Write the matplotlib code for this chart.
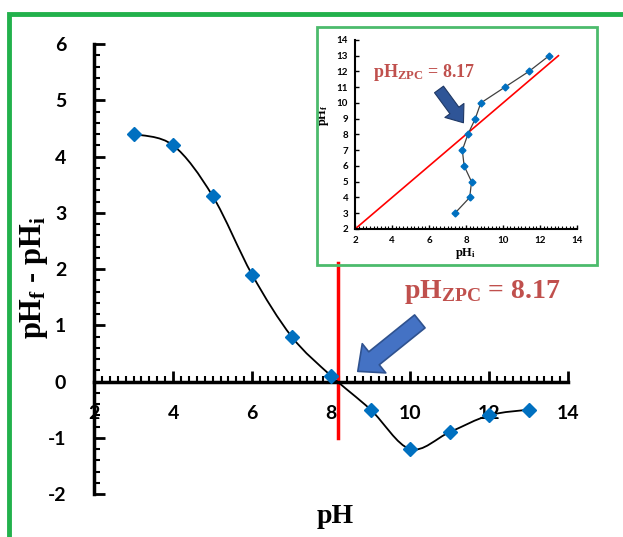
import numpy as np
import matplotlib
matplotlib.use("Agg")
import matplotlib.pyplot as plt
from matplotlib.path import Path
from matplotlib.patches import PathPatch, Rectangle
from matplotlib.ticker import MultipleLocator

# Data: pH drift method
ph_initial = [3, 4, 5, 6, 7, 8, 9, 10, 11, 12, 13]
ph_delta = [4.4, 4.2, 3.3, 1.9, 0.8, 0.1, -0.5, -1.2, -0.9, -0.6, -0.5]

# Inset: pHf vs pHi
inset_phi = [7.4, 8.2, 8.3, 7.9, 7.8, 8.1, 8.5, 8.8, 10.1, 11.4, 12.5]
inset_phf = [3, 4, 5, 6, 7, 8, 9, 10, 11, 12, 13]
diag = [2, 13]
ph_zpc = 8.17

plt.rcParams["axes.unicode_minus"] = False
plt.rcParams["mathtext.fontset"] = "custom"
plt.rcParams["mathtext.rm"] = "Liberation Serif"
plt.rcParams["mathtext.bf"] = "Liberation Serif:bold"

tick_font = "Lato"
serif = "Liberation Serif"
zpc_color = "#C0504D"
marker_color = "#0070C0"


def smooth_path(xs, ys):
    """Catmull-Rom style bezier path through the points (like Excel smoothed line)."""
    pts = np.column_stack([xs, ys]).astype(float)
    verts = [pts[0]]
    codes = [Path.MOVETO]
    n = len(pts)
    for i in range(n - 1):
        p0 = pts[max(i - 1, 0)]
        p1 = pts[i]
        p2 = pts[i + 1]
        p3 = pts[min(i + 2, n - 1)]
        c1 = p1 + (p2 - p0) / 6.0
        c2 = p2 - (p3 - p1) / 6.0
        verts += [c1, c2, p2]
        codes += [Path.CURVE4] * 3
    return Path(verts, codes)


fig = plt.figure(figsize=(6.23, 5.37), dpi=100)

# outer green frame
fig.patches.append(Rectangle((0.0144, -0.05), 1.2, 0.974 + 0.05, transform=fig.transFigure,
                             fill=False, edgecolor="#22B14C", linewidth=3.5))

# ---------- main chart ----------
ax = fig.add_axes([0.151, 0.080, 0.761, 0.838])
ax.set_xlim(2, 14)
ax.set_ylim(-2, 6)
ax.spines["left"].set_position(("data", 2))
ax.spines["bottom"].set_position(("data", 0))
ax.spines["top"].set_visible(False)
ax.spines["right"].set_visible(False)
for s in ["left", "bottom"]:
    ax.spines[s].set_linewidth(2.5)

ax.xaxis.set_major_locator(MultipleLocator(2))
ax.xaxis.set_minor_locator(MultipleLocator(0.2))
ax.yaxis.set_major_locator(MultipleLocator(1))
ax.yaxis.set_minor_locator(MultipleLocator(0.2))
ax.tick_params(axis="both", which="major", direction="in", length=8, width=2)
ax.tick_params(axis="both", which="minor", direction="in", length=4, width=1.5)
ax.tick_params(axis="x", which="major", pad=17)
ax.tick_params(axis="y", which="major", pad=20)
for lab in ax.get_xticklabels() + ax.get_yticklabels():
    lab.set_fontfamily(tick_font)
    lab.set_fontweight("bold")
    lab.set_fontsize(14)

ax.add_patch(PathPatch(smooth_path(ph_initial, ph_delta), fill=False, edgecolor="black", linewidth=1.3, zorder=3))
ax.plot(ph_initial, ph_delta, linestyle="none", marker="D", markersize=7, color=marker_color, zorder=4)

ax.plot([ph_zpc, ph_zpc], [-1, 2.1], color="red", linewidth=2.5, zorder=2)
ax.annotate("", xy=(8.62, 0.15), xytext=(10.3, 1.1),
            arrowprops=dict(arrowstyle="simple,head_width=2.7,head_length=1.5,tail_width=1.2",
                            facecolor="#4472C4", edgecolor="#2F528F", linewidth=1.2))
ax.text(9.85, 1.6, r"$\mathbf{pH_{ZPC}}$" + " = 8.17", color=zpc_color, fontsize=20,
        fontfamily=serif, fontweight="bold", va="center", ha="left")

ax.set_ylabel(r"$\mathbf{pH_f}$ - $\mathbf{pH_i}$", fontsize=22, fontfamily=serif, fontweight="bold")
ax.yaxis.set_label_coords(-0.093, 0.48)
ax.set_xlabel("pH", fontsize=20, fontfamily=serif, fontweight="bold", va="center")
ax.xaxis.set_label_coords(0.508, -0.05)

# ---------- inset ----------
fig.patches.append(Rectangle((0.509, 0.5065), 0.449, 0.443, transform=fig.transFigure,
                             fill=False, edgecolor="#4CBB6C", linewidth=2))
ax2 = fig.add_axes([0.570, 0.5736, 0.356, 0.352])
ax2.set_xlim(2, 14)
ax2.set_ylim(2, 14)
ax2.spines["top"].set_visible(False)
ax2.spines["right"].set_visible(False)
for s in ["left", "bottom"]:
    ax2.spines[s].set_linewidth(1.5)
ax2.xaxis.set_major_locator(MultipleLocator(2))
ax2.xaxis.set_minor_locator(MultipleLocator(0.2))
ax2.yaxis.set_major_locator(MultipleLocator(1))
ax2.tick_params(axis="both", which="major", direction="in", length=3, width=1, labelsize=7, pad=5)
ax2.tick_params(axis="both", which="minor", direction="in", length=2, width=0.8)
for lab in ax2.get_xticklabels() + ax2.get_yticklabels():
    lab.set_fontfamily(tick_font)
    lab.set_fontweight("bold")

ax2.plot(diag, diag, color="red", linewidth=1.2)
ax2.plot(inset_phi, inset_phf, color="#404040", linewidth=0.9, marker="D", markersize=3.5,
         markerfacecolor=marker_color, markeredgecolor=marker_color)
ax2.annotate("", xy=(7.95, 8.6), xytext=(6.45, 11.0),
             arrowprops=dict(arrowstyle="simple,head_width=1.7,head_length=1.1,tail_width=0.8",
                             facecolor="#2F5597", edgecolor="#1F3864", linewidth=0.8))
ax2.text(2.95, 11.95, r"$\mathbf{pH_{ZPC}}$" + " = 8.17", color=zpc_color, fontsize=13,
         fontfamily=serif, fontweight="bold", va="center", ha="left")
ax2.set_ylabel(r"$\mathbf{pH_f}$", fontsize=9)
ax2.yaxis.set_label_coords(-0.11, 0.6)
ax2.set_xlabel(r"$\mathbf{pH_i}$", fontsize=9)
ax2.xaxis.set_label_coords(0.5, -0.09)

plt.savefig("out.png", dpi=100)
